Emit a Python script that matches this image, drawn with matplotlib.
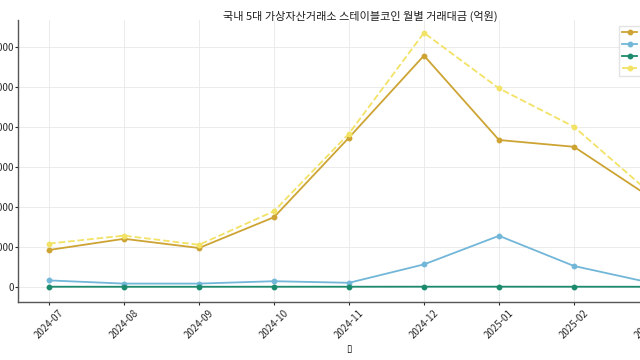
import matplotlib
matplotlib.use('Agg')
import matplotlib.pyplot as plt

plt.rcParams['font.family'] = ['Noto Sans CJK KR', 'DejaVu Sans']

# 국내 5대 거래소 스테이블코인 월별 거래대금 (억원)
months = ['2024-07', '2024-08', '2024-09', '2024-10', '2024-11',
          '2024-12', '2025-01', '2025-02', '2025-03']
upbit = [9200, 12000, 9700, 17400, 37300, 57800, 36700, 35000, 22600]
bithumb = [1600, 800, 800, 1400, 1000, 5600, 12750, 5200, 1100]
coinone = [20, 10, 10, 20, 20, 30, 30, 20, 10]
total = [10800, 12800, 10500, 18900, 38300, 63500, 49600, 40000, 23700]

series = [
    ('업비트', upbit, '#cda434', '-'),
    ('빗썸', bithumb, '#72b6d8', '-'),
    ('코인원', coinone, '#1c8a6c', '-'),
    ('합계', total, '#f2e266', '--'),
]

fig = plt.figure(figsize=(6.4, 3.6), dpi=100)
ax = fig.add_axes([18 / 640, 58 / 360, 661 / 640, 282 / 360])

x = list(range(len(months)))
for label, vals, color, ls in series:
    ax.plot(x, vals, ls, color=color, marker='o', markersize=3.2,
            linewidth=1.3, label=label)

ax.set_xlim(-0.413, 8.4)
ax.set_ylim(-3800, 66700)
ax.set_xticks(x)
ax.set_xticklabels(months, rotation=45, fontsize=7, color='#2a2a2a')
ax.set_yticks([0, 10000, 20000, 30000, 40000, 50000, 60000])
ax.tick_params(axis='y', labelsize=7, length=2, pad=1, colors='#2a2a2a')
ax.tick_params(axis='x', length=2.5, pad=1.5, colors='#2a2a2a')

ax.grid(color='#e8e8e8', linewidth=0.6)
ax.set_axisbelow(True)
for s in ['top', 'right']:
    ax.spines[s].set_visible(False)
for s in ['left', 'bottom']:
    ax.spines[s].set_color('#555555')
    ax.spines[s].set_linewidth(1.0)

fig.text(360 / 640, 1 - 16 / 360, '국내 5대 가상자산거래소 스테이블코인 월별 거래대금 (억원)',
         ha='center', va='center', fontsize=8, color='#1e1e1e')
ax.set_xlabel('▯', family='DejaVu Sans', fontsize=7, labelpad=3)

ax.legend(loc='upper left', bbox_to_anchor=(619 / 640, 1 - 26 / 360),
          bbox_transform=fig.transFigure, fontsize=5.5, frameon=True,
          edgecolor='#dddddd', fancybox=False, borderaxespad=0)

fig.savefig('out.png', dpi=100)
